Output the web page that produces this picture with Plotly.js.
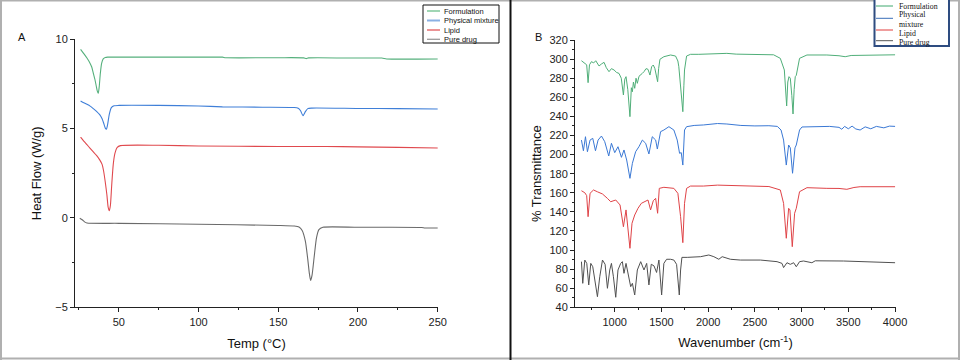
<!DOCTYPE html>
<html>
<head>
<meta charset="utf-8">
<script src="https://cdn.plot.ly/plotly-3.0.1.min.js"></script>
<style>html,body{margin:0;padding:0;background:#fff;}#chart{width:960px;height:360px;}</style>
</head>
<body>
<div id="chart"></div>
<script>
// ---------- Names / colours ----------
const seriesNames = ["Formulation", "Physical mixture", "Lipid", "Pure drug"];
const seriesNamesB = ["Formulation", "Physical<br>mixture", "Lipid", "Pure drug"];
const dscColors = ["#55b07c", "#3f7fd8", "#e0494e", "#6a6a6a"];
const ftirColors = ["#4fae78", "#3a78d4", "#df4347", "#505050"];

// ---------- Panel A: DSC (Temp °C vs Heat Flow W/g) ----------
const dscFormX = [26, 28, 30, 32, 33, 34, 35, 35.8, 36.5, 37.1, 37.7, 38.4, 39.2, 40.2, 41.5, 43, 50, 80, 100, 115, 117, 150, 166, 167.5, 169, 200, 215, 218, 250];
const dscFormY = [9.44, 9.2, 8.95, 8.65, 8.45, 8.1, 7.75, 7.4, 7.1, 6.98, 7.35, 8.1, 8.65, 8.9, 8.98, 9.0, 9.0, 9.0, 9.0, 9.0, 8.97, 8.97, 8.96, 8.92, 8.96, 8.95, 8.95, 8.9, 8.9];

const dscPhysX = [26, 28, 30, 32, 34, 36, 38, 39.5, 40.5, 41.5, 42.2, 43, 44, 45.3, 47, 50, 75, 100, 115, 140, 160, 162.5, 164, 165.5, 167, 168.5, 171, 200, 225, 250];
const dscPhysY = [6.55, 6.45, 6.36, 6.26, 6.12, 5.97, 5.78, 5.55, 5.3, 5.03, 4.97, 5.25, 5.8, 6.18, 6.28, 6.3, 6.3, 6.27, 6.22, 6.2, 6.18, 6.14, 6.0, 5.72, 5.95, 6.12, 6.15, 6.13, 6.12, 6.1];

const dscLipidX = [26, 28, 30, 32, 34, 36, 38, 39.5, 40.5, 41.5, 42.5, 43.3, 44, 44.7, 45.5, 46.5, 47.5, 49, 51, 75, 100, 150, 180, 200, 225, 250];
const dscLipidY = [4.52, 4.3, 4.1, 3.9, 3.7, 3.5, 3.25, 3.0, 2.6, 2.0, 1.3, 0.6, 0.4, 0.7, 1.8, 3.0, 3.6, 3.95, 4.05, 4.07, 4.03, 4.0, 4.0, 3.98, 3.95, 3.92];

const dscDrugX = [25.5, 27, 28.5, 30, 50, 100, 150, 160, 163, 165, 167, 168.5, 169.5, 170.3, 171.2, 172.5, 174, 175.5, 178, 200, 240, 242, 250];
const dscDrugY = [-0.02, -0.1, -0.22, -0.28, -0.3, -0.35, -0.42, -0.45, -0.5, -0.7, -1.3, -2.3, -3.1, -3.5, -3.2, -2.2, -1.1, -0.65, -0.52, -0.52, -0.53, -0.56, -0.56];

// ---------- Panel B: FTIR (Wavenumber vs % Transmittance) ----------
const ftirFormX = [644, 660, 680, 700, 715, 730, 751, 775, 797, 815, 832, 860, 886, 910, 939, 965, 993, 1020, 1046, 1070, 1093, 1108, 1121, 1140, 1163, 1178, 1189, 1200, 1214, 1228, 1242, 1260, 1278, 1295, 1313, 1335, 1356, 1377, 1395, 1413, 1430, 1459, 1470, 1484, 1526, 1560, 1598, 1651, 1676, 1686, 1700, 1712, 1729, 1740, 1747, 1769, 1811, 1900, 2000, 2100, 2200, 2300, 2450, 2600, 2700, 2772, 2815, 2840, 2852, 2865, 2879, 2895, 2908, 2920, 2932, 2943, 2960, 2978, 3057, 3270, 3400, 3466, 3530, 3626, 3800, 3982, 4000];
const ftirFormY = [298.3, 297, 295.6, 294, 275.3, 294, 297.3, 296, 298.3, 295, 292.8, 295, 296.6, 291, 286.8, 290, 288.6, 286, 285, 280, 262.4, 279, 281.6, 268, 239.7, 270, 265.8, 276, 269.4, 280, 274.6, 282, 283.3, 285, 286.8, 290, 289.3, 283.3, 292, 293.8, 290, 276.3, 290, 299.8, 302.5, 303, 304.3, 303.2, 298, 292, 278, 260.6, 244.9, 272, 288.6, 303.2, 305, 305, 305.5, 306.2, 306, 305.2, 305, 305.3, 304.5, 300.8, 288.6, 250.9, 276, 281.6, 280, 262, 242.5, 268, 281.6, 283, 294, 300.8, 304.3, 304.3, 303.5, 302.5, 303.8, 304, 304.5, 304.3, 304.5];

const ftirPhysX = [644, 665, 687, 708, 736, 765, 794, 822, 858, 893, 936, 965, 1000, 1035, 1072, 1099, 1128, 1163, 1189, 1224, 1259, 1296, 1331, 1366, 1402, 1438, 1456, 1491, 1526, 1580, 1633, 1669, 1694, 1712, 1729, 1747, 1769, 1850, 1950, 2100, 2200, 2350, 2500, 2650, 2740, 2780, 2807, 2836, 2861, 2879, 2903, 2929, 2943, 2978, 3004, 3150, 3300, 3400, 3430, 3460, 3500, 3540, 3580, 3626, 3680, 3740, 3800, 3880, 3940, 4000];
const ftirPhysY = [215.2, 204, 218.7, 203, 215.2, 217, 204, 215.2, 219.4, 213.5, 198.5, 211.8, 202, 208.2, 197.1, 204.8, 194.3, 175.1, 190.8, 203, 208.2, 215.2, 211.8, 200.6, 218.7, 215.2, 205.8, 224, 225.7, 229.2, 225.7, 215.2, 201.3, 202, 189, 225.7, 229.2, 230.5, 231, 232.5, 232, 230.5, 230, 230.2, 229.5, 225.7, 215.2, 189, 210, 207, 180.4, 207, 210, 225.7, 228.9, 229.5, 229.5, 228.5, 226.5, 229.5, 227, 229.8, 226.8, 225.7, 229, 227, 229.5, 228, 229.8, 229.5];

const ftirLipidX = [644, 680, 700, 715, 736, 773, 815, 869, 922, 957, 1011, 1057, 1093, 1121, 1163, 1185, 1214, 1249, 1285, 1320, 1356, 1384, 1413, 1438, 1459, 1477, 1526, 1633, 1676, 1705, 1729, 1747, 1769, 1811, 1950, 2100, 2250, 2450, 2650, 2772, 2807, 2836, 2861, 2875, 2900, 2925, 2943, 2978, 3057, 3270, 3400, 3484, 3560, 3626, 3800, 4000];
const ftirLipidY = [162.1, 160, 157, 134.9, 159.4, 162.9, 161, 158.7, 154.1, 150.6, 152.4, 147.2, 124.4, 142, 101.8, 128, 136.7, 143.7, 148.9, 150.6, 152.4, 142, 151.7, 154.1, 138.5, 164.6, 165.7, 164.6, 159.4, 134.9, 107.7, 148.9, 164.6, 167, 167, 168, 167.5, 167, 166.5, 162.9, 148.9, 112.3, 143.7, 142, 103.5, 138.5, 143.7, 161.1, 165.3, 164.6, 164.5, 163.6, 165.5, 166.3, 166.5, 166.3];

const ftirDrugX = [644, 658, 680, 701, 722, 744, 765, 790, 815, 840, 869, 897, 922, 947, 965, 986, 1011, 1035, 1064, 1082, 1099, 1121, 1146, 1171, 1189, 1214, 1242, 1278, 1313, 1342, 1366, 1391, 1420, 1448, 1473, 1502, 1526, 1555, 1598, 1633, 1662, 1680, 1691, 1705, 1719, 1776, 1918, 2007, 2061, 2114, 2150, 2238, 2345, 2559, 2737, 2790, 2807, 2843, 2879, 2915, 2943, 2978, 3021, 3110, 3146, 3448, 3804, 4000];
const ftirDrugY = [87.8, 65.1, 89.5, 86, 63.4, 86, 82.5, 66.8, 51.1, 72, 89.5, 85.1, 59.9, 79.1, 86, 72, 50.5, 79.1, 86, 87.8, 75.6, 86, 72, 61.6, 65.1, 52.9, 79.1, 87.8, 79.1, 86, 63.4, 85.1, 83.4, 76.5, 89.5, 52.9, 86, 90.3, 90.3, 89.5, 85, 65.1, 52.9, 79.1, 92.3, 92.3, 93, 94.8, 93, 90.3, 93, 90.3, 89.5, 89.5, 87.8, 86, 81.6, 86.7, 85, 86.7, 82.5, 87.8, 88.5, 86.7, 88.7, 88.5, 87.2, 86.7];

// ---------- axis ticks ----------
const aTickVals = [50, 100, 150, 200, 250];
const aYTickVals = [-5, 0, 5, 10];
const bTickVals = [1000, 1500, 2000, 2500, 3000, 3500, 4000];
const bYTickVals = [40, 60, 80, 100, 120, 140, 160, 180, 200, 220, 240, 260, 280, 300, 320];

// ---------- build traces ----------
const dscX = [dscFormX, dscPhysX, dscLipidX, dscDrugX];
const dscY = [dscFormY, dscPhysY, dscLipidY, dscDrugY];
const ftX = [ftirFormX, ftirPhysX, ftirLipidX, ftirDrugX];
const ftY = [ftirFormY, ftirPhysY, ftirLipidY, ftirDrugY];

const traces = [];
for (let i = 0; i < 4; i++) {
  traces.push({x: dscX[i], y: dscY[i], type: 'scatter', mode: 'lines', name: seriesNames[i],
    line: {color: dscColors[i], width: 1.1, shape: 'spline', smoothing: 0.6}, xaxis: 'x', yaxis: 'y', showlegend: false});
}
for (let i = 0; i < 4; i++) {
  traces.push({x: ftX[i], y: ftY[i], type: 'scatter', mode: 'lines', name: seriesNames[i],
    line: {color: ftirColors[i], width: 1}, xaxis: 'x2', yaxis: 'y2', showlegend: false});
}

const W = 960, H = 360;
const px = v => v / W, py = v => 1 - v / H;
const tickFont = {family: 'Liberation Sans, Arial, sans-serif', size: 11, color: '#222'};
const titleFont = {family: 'Liberation Sans, Arial, sans-serif', size: 13, color: '#111'};

function axisBase() {
  return {showline: true, linecolor: '#222', linewidth: 1, ticks: 'outside', ticklen: 4, tickcolor: '#222',
    showgrid: false, zeroline: false, tickfont: tickFont, automargin: false, fixedrange: true};
}

const layout = {
  width: W, height: H, margin: {l: 0, r: 0, t: 0, b: 0},
  paper_bgcolor: '#fff', plot_bgcolor: 'rgba(0,0,0,0)', showlegend: false,
  xaxis: Object.assign(axisBase(), {domain: [px(75), px(438)], range: [22.5, 250.2], tickvals: aTickVals,
    minor: {ticks: 'outside', ticklen: 2, dtick: 25, tick0: 0, tickcolor: '#222'}, anchor: 'y',
    title: {text: 'Temp (°C)', font: titleFont, standoff: 12}}),
  yaxis: Object.assign(axisBase(), {domain: [py(307.3), py(39.3)], range: [-5, 10], tickvals: aYTickVals,
    minor: {ticks: 'outside', ticklen: 2, dtick: 2.5, tick0: 0, tickcolor: '#222'}, anchor: 'x',
    title: {text: 'Heat Flow (W/g)', font: titleFont, standoff: 10}}),
  xaxis2: Object.assign(axisBase(), {domain: [px(575), px(896)], range: [575, 4010], tickvals: bTickVals,
    minor: {ticks: 'outside', ticklen: 2, dtick: 250, tick0: 0, tickcolor: '#222'}, anchor: 'y2',
    title: {text: 'Wavenumber (cm<sup>-1</sup>)', font: titleFont, standoff: 11}}),
  yaxis2: Object.assign(axisBase(), {domain: [py(307.3), py(40)], range: [40, 320], tickvals: bYTickVals,
    minor: {ticks: 'outside', ticklen: 2, dtick: 10, tick0: 0, tickcolor: '#222'}, anchor: 'x2',
    title: {text: '% Transmittance', font: titleFont, standoff: 4}}),
  shapes: [],
  annotations: []
};

// frame
const frame = '#b0b0b0';
layout.shapes.push({type: 'line', xref: 'paper', yref: 'paper', x0: 0, x1: 1, y0: py(0.5), y1: py(0.5), line: {color: frame, width: 2}});
layout.shapes.push({type: 'line', xref: 'paper', yref: 'paper', x0: 0, x1: 1, y0: py(358.5), y1: py(358.5), line: {color: frame, width: 2}});
layout.shapes.push({type: 'line', xref: 'paper', yref: 'paper', x0: px(1), x1: px(1), y0: 0, y1: 1, line: {color: frame, width: 2}});
layout.shapes.push({type: 'line', xref: 'paper', yref: 'paper', x0: px(959), x1: px(959), y0: 0, y1: 1, line: {color: frame, width: 2}});
layout.shapes.push({type: 'line', xref: 'paper', yref: 'paper', x0: px(510.5), x1: px(510.5), y0: 0, y1: 1, line: {color: '#111', width: 2}});

// panel labels
layout.annotations.push({xref: 'paper', yref: 'paper', x: px(22), y: py(37), text: 'A', showarrow: false,
  font: {family: 'Liberation Sans, Arial, sans-serif', size: 11, color: '#111'}, xanchor: 'center', yanchor: 'middle'});
layout.annotations.push({xref: 'paper', yref: 'paper', x: px(538), y: py(37), text: 'B', showarrow: false,
  font: {family: 'Liberation Sans, Arial, sans-serif', size: 11, color: '#111'}, xanchor: 'center', yanchor: 'middle'});

// legend A (custom, compact)
const legAColors = ["#6cc08b", "#8ab0e3", "#e0585c", "#9a9a9a"];
layout.shapes.push({type: 'rect', xref: 'paper', yref: 'paper', x0: px(423), x1: px(499), y0: py(43), y1: py(5),
  line: {color: '#111', width: 1}, fillcolor: '#fff'});
const legAY = [11, 20.5, 30, 39.3];
for (let i = 0; i < 4; i++) {
  layout.shapes.push({type: 'line', xref: 'paper', yref: 'paper', x0: px(427), x1: px(440), y0: py(legAY[i]), y1: py(legAY[i]),
    line: {color: legAColors[i], width: i === 1 ? 2 : 1.3}});
  layout.annotations.push({xref: 'paper', yref: 'paper', x: px(442), y: py(legAY[i]), text: seriesNames[i], showarrow: false,
    xanchor: 'left', yanchor: 'middle', font: {family: 'Liberation Sans Narrow, Liberation Sans, sans-serif', size: 7.5, color: '#111'}});
}

// legend B (custom, serif, blue border)
layout.shapes.push({type: 'rect', xref: 'paper', yref: 'paper', x0: px(874.5), x1: px(949), y0: py(46), y1: py(-2),
  line: {color: '#2e4c80', width: 2}, fillcolor: '#fff'});
const legBLineY = [6, 18.3, 30, 40.7];
const legBTextY = [6, 19.5, 33.3, 42.3];
const legBColors = ["#3fa86e", "#3a6fb8", "#e03c3c", "#555"];
for (let i = 0; i < 4; i++) {
  layout.shapes.push({type: 'line', xref: 'paper', yref: 'paper', x0: px(876), x1: px(893), y0: py(legBLineY[i]), y1: py(legBLineY[i]),
    line: {color: legBColors[i], width: 1}});
  layout.annotations.push({xref: 'paper', yref: 'paper', x: px(897), y: py(legBTextY[i]), text: seriesNamesB[i], showarrow: false,
    xanchor: 'left', yanchor: 'middle', align: 'left',
    font: {family: 'Liberation Serif, Times New Roman, serif', size: 7.8, color: '#111'}});
}

Plotly.newPlot('chart', traces, layout, {displayModeBar: false, staticPlot: true});
</script>
</body>
</html>
